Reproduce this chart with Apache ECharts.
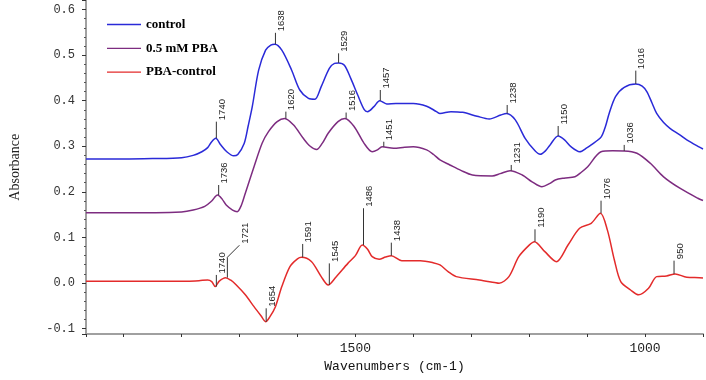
<!DOCTYPE html>
<html><head><meta charset="utf-8">
<script src="https://cdn.jsdelivr.net/npm/echarts@6/dist/echarts.min.js"></script>
<style>html,body{margin:0;padding:0;background:#fff}#c{width:706px;height:380px}</style>
</head><body><div id="c"></div>
<script>
// ---------------- data ----------------
const seriesNames = ['control', '0.5 mM PBA', 'PBA-control'];
const xTickLabels = [1500, 1000];

// [wavenumber, absorbance]
const controlData = [
 [1965,0.272],[1900,0.272],[1850,0.273],[1800,0.275],[1780,0.280],[1765,0.288],[1755,0.297],[1748,0.310],
 [1741,0.3175],[1733,0.304],[1722,0.288],[1710,0.279],[1703,0.282],[1692,0.306],[1685,0.345],[1678,0.387],
 [1667,0.467],[1655,0.511],[1646,0.522],[1639,0.524],[1627,0.511],[1610,0.467],[1596,0.4235],[1581,0.405],
 [1570,0.403],[1559,0.431],[1545,0.471],[1536,0.482],[1529,0.483],[1519,0.478],[1508,0.449],[1496,0.4125],
 [1485,0.381],[1479,0.376],[1468,0.387],[1458,0.400],[1446,0.393],[1430,0.394],[1400,0.394],[1377,0.388],
 [1360,0.376],[1354,0.372],[1335,0.376],[1315,0.3745],[1290,0.366],[1269,0.360],[1249,0.3687],[1239,0.372],
 [1224,0.358],[1207,0.3175],[1190,0.290],[1181,0.2825],[1172,0.290],[1164,0.303],[1150,0.3226],[1139,0.314],
 [1127,0.298],[1113,0.288],[1100,0.297],[1093,0.303],[1076,0.320],[1068,0.345],[1062,0.372],[1051,0.409],
 [1036,0.4295],[1016,0.4367],[1005,0.432],[997,0.420],[988,0.395],[980,0.372],[968,0.352],[957,0.3395],
 [940,0.325],[928,0.314],[906,0.298],[900,0.294]
];
const pbaData = [
 [1965,0.154],[1900,0.154],[1800,0.156],[1780,0.160],[1760,0.168],[1748,0.180],[1738,0.193],[1730,0.184],
 [1723,0.171],[1712,0.160],[1704,0.1565],[1697,0.170],[1690,0.197],[1675,0.255],[1661,0.3065],[1650,0.332],
 [1635,0.354],[1622,0.361],[1607,0.347],[1590,0.3175],[1578,0.300],[1567,0.293],[1557,0.307],[1547,0.3285],
 [1530,0.354],[1518,0.361],[1502,0.343],[1485,0.3065],[1471,0.288],[1462,0.292],[1454,0.299],[1434,0.2955],
 [1415,0.298],[1400,0.299],[1377,0.292],[1365,0.282],[1354,0.270],[1337,0.259],[1318,0.247],[1298,0.237],
 [1264,0.235],[1250,0.240],[1233,0.2465],[1212,0.237],[1195,0.222],[1178,0.211],[1165,0.218],[1155,0.226],
 [1140,0.230],[1121,0.233],[1110,0.243],[1099,0.255],[1076,0.288],[1056,0.290],[1036,0.2897],[1014,0.2846],
 [991,0.2627],[968,0.233],[940,0.208],[909,0.186],[900,0.181]
];
const diffData = [
 [1965,0.004],[1850,0.004],[1790,0.004],[1770,0.005],[1755,0.0066],[1748,0.003],[1742,-0.008],[1735,0.004],
 [1724,0.0117],[1715,0.006],[1706,-0.004],[1690,-0.026],[1675,-0.052],[1663,-0.072],[1655,-0.085],[1648,-0.075],
 [1638,-0.052],[1627,-0.008],[1613,0.036],[1600,0.053],[1593,0.0564],[1576,0.047],[1559,0.0139],[1547,-0.0044],
 [1533,0.0139],[1513,0.043],[1500,0.060],[1488,0.0834],[1479,0.074],[1471,0.0577],[1459,0.052],[1448,0.057],
 [1438,0.060],[1420,0.049],[1388,0.049],[1366,0.0446],[1354,0.0395],[1340,0.025],[1326,0.0139],[1286,0.0066],
 [1260,0.001],[1252,-0.0007],[1235,0.0139],[1218,0.0577],[1200,0.083],[1191,0.0906],[1173,0.0687],[1153,0.0467],
 [1133,0.0834],[1113,0.120],[1093,0.131],[1077,0.153],[1065,0.116],[1053,0.0505],[1042,0.003],[1025,-0.0154],
 [1011,-0.026],[994,-0.0116],[980,0.0139],[963,0.0154],[948,0.0198],[928,0.0125],[906,0.0117],[900,0.011]
];

// peak annotations: [wavenumber, value on curve, value at leader top]
const controlPeaks = [[1740,0.3175,0.354],[1638,0.524,0.549],[1529,0.483,0.504],[1457,0.400,0.4235],
 [1238,0.372,0.3906],[1150,0.3226,0.3445],[1016,0.4367,0.466]];
const pbaPeaks = [[1736,0.193,0.215],[1620,0.361,0.376],[1516,0.361,0.374],[1451,0.299,0.310],
 [1231,0.2465,0.259],[1036,0.2897,0.303]];
const diffPeaks = [[1740,-0.008,0.0176],[1721,0.0117,0.0564],[1654,-0.085,-0.0556],[1591,0.0564,0.0856],
 [1545,-0.0044,0.043],[1486,0.0834,0.164],[1438,0.060,0.0885],[1190,0.0906,0.1178],[1076,0.153,0.1806],
 [950,0.0198,0.049]];

// ---------------- style ----------------
const colors = ['#2a2ad8', '#7d2c80', '#e32b2b'];
const leaderKinks = { 'PBA-control:1721': [12, -12] };
const monoFont = '"Liberation Mono", "DejaVu Sans Mono", monospace';

function peakSeries(name, peaks) {
  return {
    type: 'custom', silent: true, z: 5,
    data: peaks,
    encode: { x: 0, y: 1 },
    renderItem: function (params, api) {
      const w = api.value(0);
      const p0 = api.coord([w, api.value(1)]);
      const p1 = api.coord([w, api.value(2)]);
      const pts = [p0, p1];
      const kink = leaderKinks[name + ':' + w];
      let end = p1;
      if (kink) { end = [p1[0] + kink[0], p1[1] + kink[1]]; pts.push(end); }
      return {
        type: 'group',
        children: [
          { type: 'polyline', shape: { points: pts }, style: { stroke: '#333', lineWidth: 1, fill: null } },
          { type: 'text', x: end[0] + 6, y: end[1] - 1.5, rotation: Math.PI / 2,
            style: { text: String(w), font: '9.5px "Liberation Sans", Arial, sans-serif', fill: '#222',
                     align: 'left', verticalAlign: 'middle' } }
        ]
      };
    }
  };
}

const chart = echarts.init(document.getElementById('c'), null, { renderer: 'canvas' });
chart.setOption({
  backgroundColor: '#fff',
  animation: false,
  grid: { left: 81, right: -0.7, top: 0.47, bottom: 46, containLabel: false },
  legend: {
    data: seriesNames, orient: 'vertical', left: 102, top: 13,
    icon: 'rect', itemWidth: 34, itemHeight: 1.3, itemGap: 10.8,
    textStyle: { fontFamily: '"Liberation Serif", "Times New Roman", serif', fontWeight: 'bold', fontSize: 13, color: '#000' }
  },
  xAxis: {
    type: 'value', inverse: true, min: 900, max: 1965, interval: 100,
    name: 'Wavenumbers (cm-1)', nameLocation: 'middle', nameGap: 24,
    nameTextStyle: { fontFamily: monoFont, fontSize: 13, color: '#111' },
    axisLine: { onZero: false, lineStyle: { color: '#a0a0a0', width: 2 } },
    axisTick: { length: 3, lineStyle: { color: '#333' } },
    axisLabel: { margin: 8, fontFamily: monoFont, fontSize: 13, color: '#222',
      formatter: v => (xTickLabels.indexOf(v) >= 0 ? String(v) : '') },
    splitLine: { show: false }
  },
  yAxis: {
    type: 'value', min: -0.112, max: 0.62, splitNumber: 7,
    name: 'Absorbance', nameLocation: 'middle', nameGap: 64,
    nameTextStyle: { fontFamily: '"Liberation Serif", "Times New Roman", serif', fontSize: 14, color: '#222' },
    axisLine: { show: true, lineStyle: { color: '#a0a0a0', width: 2 } },
    axisTick: { show: true, length: 4, lineStyle: { color: '#333' } },
    minorTick: { show: true, splitNumber: 5, length: 2, lineStyle: { color: '#555' } },
    axisLabel: { margin: 11, fontFamily: monoFont, fontSize: 12, color: '#333',
      showMinLabel: false, showMaxLabel: false,
      formatter: v => v.toFixed(1) },
    splitLine: { show: false }, minorSplitLine: { show: false }
  },
  series: [
    { name: seriesNames[0], type: 'line', data: controlData, color: colors[0], showSymbol: false, symbol: 'none', smooth: 0.3, lineStyle: { width: 1.5 } },
    { name: seriesNames[1], type: 'line', data: pbaData, color: colors[1], showSymbol: false, symbol: 'none', smooth: 0.3, lineStyle: { width: 1.5 } },
    { name: seriesNames[2], type: 'line', data: diffData, color: colors[2], showSymbol: false, symbol: 'none', smooth: 0.3, lineStyle: { width: 1.5 } },
    peakSeries(seriesNames[0], controlPeaks),
    peakSeries(seriesNames[1], pbaPeaks),
    peakSeries(seriesNames[2], diffPeaks)
  ]
});
</script></body></html>
